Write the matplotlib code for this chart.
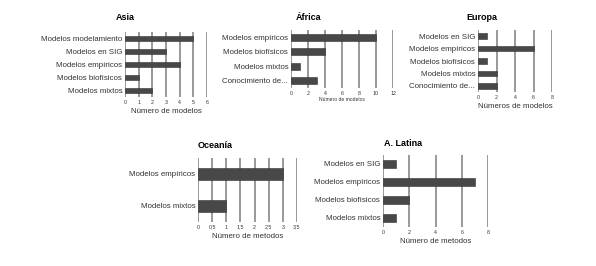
import matplotlib.pyplot as plt
import numpy as np

plt.rcParams['font.family'] = ['Liberation Sans', 'DejaVu Sans']

# Data
asia_cats = ['Modelos modelamiento', 'Modelos en SIG', 'Modelos empíricos',
             'Modelos biofísicos', 'Modelos mixtos']
asia_vals = [5, 3, 4, 1, 2]
asia_ticks = [0, 1, 2, 3, 4, 5, 6]

africa_cats = ['Modelos empíricos', 'Modelos biofísicos', 'Modelos mixtos',
               'Conocimiento de...']
africa_vals = [10, 4, 1, 3]
africa_ticks = [0, 2, 4, 6, 8, 10, 12]

europa_cats = ['Modelos en SIG', 'Modelos empíricos', 'Modelos biofísicos',
               'Modelos mixtos', 'Conocimiento de...']
europa_vals = [1, 6, 1, 2, 2]
europa_ticks = [0, 2, 4, 6, 8]

oceania_cats = ['Modelos empíricos', 'Modelos mixtos']
oceania_vals = [3, 1]
oceania_ticks = [0, 0.5, 1, 1.5, 2, 2.5, 3, 3.5]
oceania_ticklabels = ['0', '0,5', '1', '1,5', '2', '2,5', '3', '3,5']

latina_cats = ['Modelos en SIG', 'Modelos empíricos', 'Modelos biofísicos',
               'Modelos mixtos']
latina_vals = [1, 7, 2, 1]
latina_ticks = [0, 2, 4, 6, 8]

W, H = 596, 266
fig = plt.figure(figsize=(W / 100, H / 100), dpi=100)


def panel(x0, x1, y0, y1, cats, vals, ticks, xlabel, title, title_xy,
          ticklabels=None, bar_h=0.45, lab_fs=5.7, xl_fs=5.7, xl_pad=2):
    ax = fig.add_axes([x0 / W, 1 - y1 / H, (x1 - x0) / W, (y1 - y0) / H])
    n = len(cats)
    pos = np.arange(n)
    ax.barh(pos, vals, height=bar_h, color='#484848', edgecolor='#303030',
            linewidth=0.4, zorder=3)
    ax.set_ylim(n - 0.5, -0.5)
    ax.set_xlim(ticks[0], ticks[-1])
    for t in ticks:
        ax.axvline(t, color='#999999', lw=1.4, zorder=1)
    ax.set_yticks(pos)
    ax.set_yticklabels(cats, fontsize=lab_fs, color='#333333')
    ax.set_xticks(ticks)
    ax.set_xticklabels(ticklabels if ticklabels else [str(t) for t in ticks],
                       fontsize=3.8, color='#333333')
    ax.tick_params(length=0, pad=2)
    ax.set_xlabel(xlabel, fontsize=xl_fs, color='#333333', labelpad=xl_pad)
    for s in ax.spines.values():
        s.set_visible(False)
    fig.text(title_xy[0] / W, 1 - title_xy[1] / H, title, fontsize=6.5,
             fontweight='bold', ha='center', va='center')
    return ax


panel(125, 207, 32, 97, asia_cats, asia_vals, asia_ticks,
      'Número de modelos', 'Asia', (125, 18))
panel(291, 393, 30, 88, africa_cats, africa_vals, africa_ticks,
      'Número de modelos', 'África', (309, 18), xl_fs=3.6, xl_pad=1)
panel(478, 552, 30, 92, europa_cats, europa_vals, europa_ticks,
      'Números de modelos', 'Europa', (482, 17))
panel(198, 297, 158, 222, oceania_cats, oceania_vals, oceania_ticks,
      'Número de metodos', 'Oceanía', (215, 145),
      ticklabels=oceania_ticklabels, bar_h=0.38)
panel(383, 488, 155, 227, latina_cats, latina_vals, latina_ticks,
      'Número de metodos', 'A. Latina', (403, 143), bar_h=0.4)

fig.savefig('out.png', dpi=100)
